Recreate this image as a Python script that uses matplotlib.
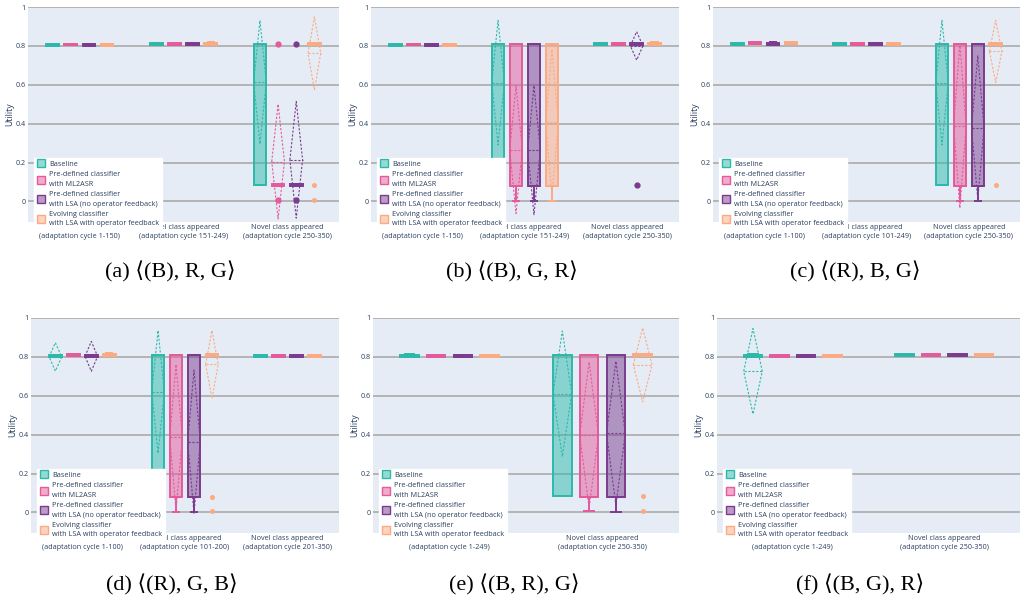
import numpy as np
import matplotlib
matplotlib.use('Agg')
import matplotlib.pyplot as plt
from matplotlib.lines import Line2D

plt.rcParams['font.family'] = ['Open Sans', 'DejaVu Sans']

SERIES = ['Baseline',
          'Pre-defined classifier\nwith ML2ASR',
          'Pre-defined classifier\nwith LSA (no operator feedback)',
          'Evolving classifier\nwith LSA with operator feedback']
COLORS = ['#2cb9aa', '#e45a9b', '#7b3b8e', '#fdaa82']

CAPTIONS = ['(a) \u27e8(B), R, G\u27e9', '(b) \u27e8(B), G, R\u27e9', '(c) \u27e8(R), B, G\u27e9',
            '(d) \u27e8(R), G, B\u27e9', '(e) \u27e8(B, R), G\u27e9', '(f) \u27e8(B, G), R\u27e9']

A_CATS = ['\n(adaptation cycle 1-150)', 'Novel class appeared\n(adaptation cycle 151-249)',
          'Novel class appeared\n(adaptation cycle 250-350)']
B_CATS = ['\n(adaptation cycle 1-150)', 'Novel class appeared\n(adaptation cycle 151-249)',
          'Novel class appeared\n(adaptation cycle 250-350)']
C_CATS = ['\n(adaptation cycle 1-100)', 'Novel class appeared\n(adaptation cycle 101-249)',
          'Novel class appeared\n(adaptation cycle 250-350)']
D_CATS = ['\n(adaptation cycle 1-100)', 'Novel class appeared\n(adaptation cycle 101-200)',
          'Novel class appeared\n(adaptation cycle 201-350)']
E_CATS = ['\n(adaptation cycle 1-249)', 'Novel class appeared\n(adaptation cycle 250-350)']
F_CATS = ['\n(adaptation cycle 1-249)', 'Novel class appeared\n(adaptation cycle 250-350)']

# box stats per group, per series: [whislo, q1, med, q3, whishi]
A_BOX = [[[0.801, 0.801, 0.806, 0.811, 0.811], [0.802, 0.802, 0.807, 0.812, 0.812],
          [0.801, 0.801, 0.806, 0.811, 0.811], [0.801, 0.801, 0.806, 0.811, 0.811]],
         [[0.805, 0.805, 0.810, 0.815, 0.815], [0.805, 0.805, 0.810, 0.815, 0.815],
          [0.805, 0.805, 0.810, 0.815, 0.815], [0.805, 0.805, 0.810, 0.815, 0.818]],
         [[0.083, 0.083, 0.810, 0.810, 0.810], [0.078, 0.078, 0.083, 0.088, 0.088],
          [0.078, 0.078, 0.083, 0.088, 0.088], [0.805, 0.805, 0.810, 0.815, 0.815]]]
A_MEAN = [[0.806, 0.807, 0.806, 0.806], [0.810, 0.810, 0.810, 0.810], [0.613, 0.205, 0.214, 0.762]]
A_SD = [[0.002, 0.002, 0.002, 0.002], [0.002, 0.002, 0.002, 0.002], [0.318, 0.295, 0.300, 0.187]]
A_FLIERS = [[[], [], [], []], [[], [], [], []], [[], [0.81, 0.005], [0.81, 0.005], [0.083, 0.005]]]

B_BOX = [[[0.801, 0.801, 0.806, 0.811, 0.811], [0.802, 0.802, 0.807, 0.812, 0.812],
          [0.801, 0.801, 0.806, 0.811, 0.811], [0.801, 0.801, 0.806, 0.811, 0.811]],
         [[0.083, 0.083, 0.810, 0.810, 0.810], [0.000, 0.080, 0.080, 0.810, 0.810],
          [0.000, 0.080, 0.080, 0.810, 0.810], [0.000, 0.080, 0.080, 0.810, 0.810]],
         [[0.805, 0.805, 0.810, 0.815, 0.815], [0.805, 0.805, 0.810, 0.815, 0.815],
          [0.805, 0.805, 0.810, 0.815, 0.815], [0.805, 0.805, 0.810, 0.815, 0.818]]]
B_MEAN = [[0.806, 0.807, 0.806, 0.806], [0.611, 0.266, 0.264, 0.406], [0.810, 0.810, 0.800, 0.810]]
B_SD = [[0.002, 0.002, 0.002, 0.002], [0.320, 0.328, 0.332, 0.375], [0.002, 0.002, 0.073, 0.002]]
B_FLIERS = [[[], [], [], []], [[], [], [], []], [[], [], [0.083], []]]

C_BOX = [[[0.807, 0.807, 0.812, 0.817, 0.817], [0.808, 0.808, 0.813, 0.818, 0.818],
          [0.803, 0.807, 0.812, 0.817, 0.821], [0.808, 0.808, 0.813, 0.818, 0.821]],
         [[0.803, 0.803, 0.808, 0.813, 0.813], [0.803, 0.803, 0.808, 0.813, 0.813],
          [0.803, 0.803, 0.808, 0.813, 0.813], [0.803, 0.803, 0.808, 0.813, 0.813]],
         [[0.084, 0.084, 0.810, 0.810, 0.810], [0.000, 0.080, 0.080, 0.810, 0.810],
          [0.000, 0.080, 0.080, 0.810, 0.810], [0.805, 0.805, 0.810, 0.815, 0.815]]]
C_MEAN = [[0.812, 0.813, 0.812, 0.813], [0.808, 0.808, 0.808, 0.808], [0.611, 0.389, 0.379, 0.772]]
C_SD = [[0.002, 0.002, 0.002, 0.002], [0.002, 0.002, 0.002, 0.002], [0.320, 0.423, 0.370, 0.160]]
C_FLIERS = [[[], [], [], []], [[], [], [], []], [[], [], [], [0.083]]]

D_BOX = [[[0.801, 0.801, 0.806, 0.811, 0.811], [0.807, 0.807, 0.812, 0.817, 0.817],
          [0.801, 0.801, 0.806, 0.811, 0.811], [0.805, 0.805, 0.810, 0.815, 0.818]],
         [[0.080, 0.080, 0.810, 0.810, 0.810], [0.000, 0.079, 0.079, 0.810, 0.810],
          [0.000, 0.079, 0.079, 0.810, 0.810], [0.805, 0.805, 0.810, 0.815, 0.815]],
         [[0.801, 0.801, 0.806, 0.811, 0.811], [0.801, 0.801, 0.806, 0.811, 0.811],
          [0.801, 0.801, 0.806, 0.811, 0.811], [0.801, 0.801, 0.806, 0.811, 0.811]]]
D_MEAN = [[0.800, 0.812, 0.803, 0.810], [0.620, 0.386, 0.364, 0.761], [0.806, 0.806, 0.806, 0.806]]
D_SD = [[0.073, 0.002, 0.077, 0.002], [0.316, 0.375, 0.368, 0.175], [0.002, 0.002, 0.002, 0.002]]
D_FLIERS = [[[], [], [], []], [[], [], [], [0.080, 0.005]], [[], [], [], []]]

E_BOX = [[[0.801, 0.801, 0.806, 0.811, 0.816], [0.801, 0.801, 0.806, 0.811, 0.811],
          [0.801, 0.801, 0.806, 0.811, 0.811], [0.801, 0.801, 0.806, 0.811, 0.811]],
         [[0.082, 0.082, 0.810, 0.810, 0.810], [0.005, 0.080, 0.080, 0.810, 0.810],
          [0.000, 0.080, 0.080, 0.810, 0.810], [0.805, 0.805, 0.810, 0.815, 0.815]]]
E_MEAN = [[0.806, 0.806, 0.806, 0.806], [0.610, 0.398, 0.407, 0.759]]
E_SD = [[0.002, 0.002, 0.002, 0.002], [0.323, 0.376, 0.371, 0.190]]
E_FLIERS = [[[], [], [], []], [[], [], [], [0.082, 0.005]]]

F_BOX = [[[0.801, 0.801, 0.806, 0.811, 0.816], [0.801, 0.801, 0.806, 0.811, 0.811],
          [0.801, 0.801, 0.806, 0.811, 0.811], [0.801, 0.801, 0.806, 0.811, 0.811]],
         [[0.805, 0.805, 0.810, 0.815, 0.815], [0.805, 0.805, 0.810, 0.815, 0.815],
          [0.805, 0.805, 0.810, 0.815, 0.815], [0.805, 0.805, 0.810, 0.815, 0.815]]]
F_MEAN = [[0.726, 0.806, 0.806, 0.806], [0.810, 0.810, 0.810, 0.810]]
F_SD = [[0.220, 0.002, 0.002, 0.002], [0.002, 0.002, 0.002, 0.002]]
F_FLIERS = [[[], [], [], []], [[], [], [], []]]

PANELS = [(A_CATS, A_BOX, A_MEAN, A_SD, A_FLIERS),
          (B_CATS, B_BOX, B_MEAN, B_SD, B_FLIERS),
          (C_CATS, C_BOX, C_MEAN, C_SD, C_FLIERS),
          (D_CATS, D_BOX, D_MEAN, D_SD, D_FLIERS),
          (E_CATS, E_BOX, E_MEAN, E_SD, E_FLIERS),
          (F_CATS, F_BOX, F_MEAN, F_SD, F_FLIERS)]

W, H = 1024, 601
# axes rectangles in pixels: left, right, top, bottom
RECTS = [(28, 339, 7, 222), (371, 679, 7, 222), (713, 1020, 7, 222),
         (31, 339, 318, 533), (373, 679, 318, 533), (717, 1020, 318, 533)]
CAP_POS = [(170, 272), (512, 272), (855, 272), (172, 585), (514, 585), (860, 585)]

BG = '#e5ecf6'
GRID = '#b4b4b4'
TXT = '#2a3f5f'
SLOT = 0.175
BOXW = SLOT * 0.7

fig = plt.figure(figsize=(W / 100, H / 100), dpi=100)

for p, (cats, boxes, means, sds, fliers) in enumerate(PANELS):
	l, r, t, b = RECTS[p]
	ax = fig.add_axes([l / W, 1 - b / H, (r - l) / W, (b - t) / H])
	ax.set_facecolor(BG)
	ncat = len(cats)
	for s in range(4):
		pos = np.arange(ncat) + (s - 1.5) * SLOT
		stats = []
		for g in range(ncat):
			lo, q1, med, q3, hi = boxes[g][s]
			stats.append(dict(whislo=lo, q1=q1, med=med, q3=q3, whishi=hi, fliers=fliers[g][s]))
		c = COLORS[s]
		bp = ax.bxp(stats, positions=pos, widths=BOXW, capwidths=BOXW * 0.5, patch_artist=True,
		            showfliers=True, manage_ticks=False,
		            boxprops=dict(facecolor=matplotlib.colors.to_rgba(c, 0.5), edgecolor=c, linewidth=1.4),
		            medianprops=dict(color=c, linewidth=1.4),
		            whiskerprops=dict(color=c, linewidth=1.4),
		            capprops=dict(color=c, linewidth=1.4),
		            flierprops=dict(marker='o', markersize=3.5 if s < 3 else 2.6, markerfacecolor=c,
		                            markeredgecolor=c, linestyle='none'))
		for art in bp['boxes'] + bp['medians'] + bp['whiskers'] + bp['caps'] + bp['fliers']:
			art.set_zorder(3)
		# mean line and sd diamond
		for g in range(ncat):
			m, sd = means[g][s], sds[g][s]
			x0 = pos[g]
			ax.plot([x0 - BOXW / 2, x0 + BOXW / 2], [m, m], color=c, lw=0.8, ls=(0, (2, 1.5)), zorder=4)
			ax.plot([x0 - BOXW / 2, x0, x0 + BOXW / 2, x0, x0 - BOXW / 2],
			        [m, m + sd, m, m - sd, m], color=c, lw=0.8, ls=(0, (2, 1.5)), zorder=4)

	ax.set_xlim(-0.5, ncat - 0.5)
	ax.set_ylim(-0.106, 1.0)
	ax.set_yticks([0, 0.2, 0.4, 0.6, 0.8, 1.0])
	ax.set_yticklabels(['0', '0.2', '0.4', '0.6', '0.8', '1'])
	ax.set_xticks(np.arange(ncat))
	ax.set_xticklabels(cats)
	ax.tick_params(axis='x', length=0, pad=1.5, labelsize=5.2, labelcolor=TXT)
	ax.tick_params(axis='y', length=0, pad=1.5, labelsize=5.2, labelcolor=TXT)
	for tl in ax.get_xticklabels():
		tl.set_linespacing(1.45)
	ax.grid(axis='y', color=GRID, lw=1.4)
	ax.set_axisbelow(True)
	for sp in ax.spines.values():
		sp.set_visible(False)
	ax.set_ylabel('Utility', fontsize=6.3, color=TXT)
	ax.yaxis.set_label_coords(-14 / (r - l), 0.5)

	handles = [Line2D([], [], marker='s', linestyle='none', markersize=5.5,
	                  markerfacecolor=matplotlib.colors.to_rgba(c, 0.5), markeredgecolor=c, markeredgewidth=1)
	           for c in COLORS]
	leg = ax.legend(handles, SERIES, loc='upper left', bbox_to_anchor=(6 / (r - l), 0.30), fontsize=5.2,
	                frameon=True, fancybox=False, framealpha=1, edgecolor='white', facecolor='white',
	                labelcolor=TXT, handletextpad=0.6, labelspacing=0.5, borderpad=0.45, handlelength=1.0,
	                borderaxespad=0)
	for tx in leg.get_texts():
		tx.set_linespacing(1.45)
	leg.set_zorder(10)

	cx, cy = CAP_POS[p]
	fig.text(cx / W, 1 - cy / H, CAPTIONS[p], ha='center', va='center', fontsize=16,
	         family=['Liberation Serif', 'DejaVu Serif', 'DejaVu Sans'], color='black')

fig.savefig('out.png', dpi=100)
